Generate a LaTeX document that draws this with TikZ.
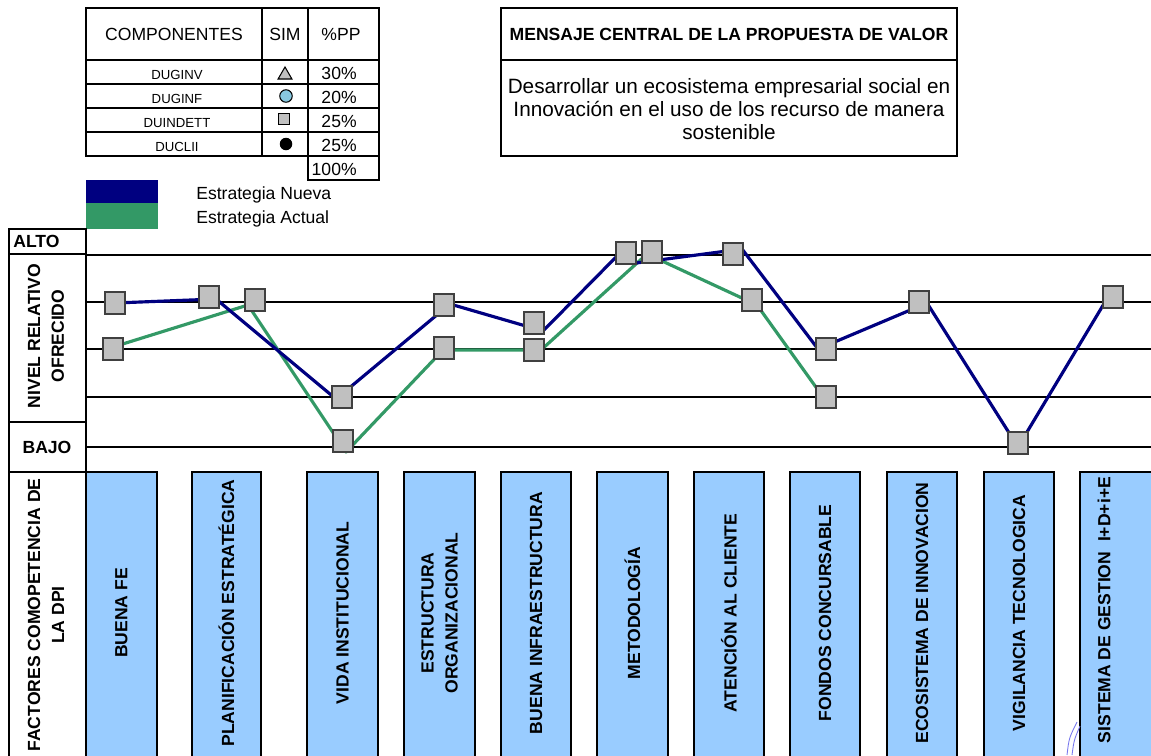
\documentclass[tikz,border=0pt]{standalone}
\usepackage{fontspec}
\setmainfont{Liberation Sans}
\usetikzlibrary{shapes.geometric,positioning}
\definecolor{nueva}{HTML}{000080}
\definecolor{actual}{HTML}{339966}
\definecolor{factor}{HTML}{99CCFF}
\definecolor{marca}{HTML}{C0C0C0}
\definecolor{simbolo}{HTML}{88C8E0}
\definecolor{arco}{HTML}{7777EE}

\begin{document}
\begin{tikzpicture}[x=0.02cm,y=-0.02cm,font=\fontsize{10}{12}\selectfont]
\tikzstyle{grueso}=[line width=1.6pt]
\tikzstyle{fino}=[line width=1pt]
\tikzstyle{rejilla}=[line width=1.1pt]
\tikzstyle{serie}=[line width=1.8pt,line join=round]
\tikzstyle{marcador}=[draw=black!75,fill=marca,line width=0.7pt,minimum width=0.4cm,minimum height=0.44cm,inner sep=0pt]
\tikzstyle{factorcol}=[draw,grueso,fill=factor]
\tikzstyle{vtexto}=[rotate=90,align=center,font=\fontsize{10}{13.6}\selectfont\bfseries]
\tikzstyle{celda}=[inner sep=0pt]
\useasboundingbox (0,0) rectangle (1151,755);

% tabla de componentes
\draw[fino] (86,8) rectangle (379,156) (308,156) rectangle (379,180)
  (262,8) -- (262,156) (308,8) -- (308,156);
\foreach \y in {60,84,108,132} \draw[fino] (86,\y) -- (379,\y);
\node[celda] (comp) at (174,34) {COMPONENTES};
\node[celda] (sim) at (285,34) {SIM};
\node[celda] (pp) at (341,34) {\%PP};
\foreach \n/\p [count=\i] in {DUGINV/30,DUGINF/20,DUINDETT/25,DUCLII/25}{
  \node[celda,anchor=base,font=\fontsize{7.5}{9}\selectfont] (c\i) at (177,{55+24*\i}) {\n};
  \node[celda,anchor=base east] (p\i) at (357,{55+24*\i}) {\p\%};
}
\node[celda,anchor=base east] (total) at (357,175) {100\%};
\node[regular polygon,regular polygon sides=3,draw,fill=marca,inner sep=0pt,minimum size=0.32cm,line width=0.6pt] (s1) at (285,75) {};
\node[circle,draw,fill=simbolo,inner sep=0pt,minimum size=0.25cm,line width=0.6pt] (s2) at (286,96) {};
\node[draw,fill=marca,inner sep=0pt,minimum size=0.23cm,line width=0.6pt] (s3) at (284,119) {};
\node[circle,fill=black,inner sep=0pt,minimum size=0.25cm] (s4) at (286,144) {};

% mensaje central
\draw[grueso] (501,8) rectangle (957,156) (501,60) -- (957,60);
\node[celda,font=\fontsize{10}{12}\selectfont\bfseries] (titulo) at (729,34) {MENSAJE CENTRAL DE LA PROPUESTA DE VALOR};
\node[celda,align=center,font=\fontsize{11.8}{13.3}\selectfont] (mensaje) at (729,109) {Desarrollar un ecosistema empresarial social en\\Innovación en el uso de los recurso de manera\\sostenible};

% leyenda
\fill[nueva] (86,180) rectangle (158,203);
\fill[actual] (86,203) rectangle (158,229);
\node[celda,anchor=base west] (ley1) at (196,199) {Estrategia Nueva};
\node[celda,anchor=base west] (ley2) at (196,223) {Estrategia Actual};

% columna de rotulos
\draw[grueso] (9,760) -- (9,229) -- (86,229) -- (86,760);
\draw[grueso] (9,254) -- (86,254) (9,422) -- (86,422) (9,472) -- (86,472);
\node[celda,anchor=west,font=\fontsize{10}{12}\selectfont\bfseries] (alto) at (13,241) {ALTO};
\node[celda,font=\fontsize{10}{12}\selectfont\bfseries] (bajo) at (47,447) {BAJO};
\node[vtexto] (nivel) at (46,336) {NIVEL RELATIVO\\OFRECIDO};
\node[vtexto] (factores) at (46,615) {FACTORES COMOPETENCIA DE\\LA DPI};

\foreach \y in {255,302,349,397,447} \draw[rejilla] (86,\y) -- (1151,\y);

% series
\foreach \x/\y [count=\i] in {113/347,248/305,346/452,443/350,541/350,647/254,757/305,818/390}
  \coordinate (a\i) at (\x,\y);
\foreach \x/\y [count=\i] in {115/303,216/299,336/399,450/304,543/331,620/253,636/263,742/249,818/349,927/303,1018/447,1108/297}
  \coordinate (n\i) at (\x,\y);
\draw[serie,actual] (a1) -- (a2) -- (a3) -- (a4) -- (a5) -- (a6) -- (a7) -- (a8);
\draw[serie,nueva] (n1) -- (n2) -- (n3) -- (n4) -- (n5) -- (n6) -- (n7) -- (n8) -- (n9) -- (n10) -- (n11) -- (n12);
\foreach \x/\y [count=\i] in {113/349,255/300,343/441,444/348,534/350,652/252,752/300,826/397}
  \node[marcador] (ma\i) at (\x,\y) {};
\foreach \x/\y [count=\i] in {115/303,209/297,342/397,444/305,534/323,626/253,733/254,826/349,919/302,1018/443,1113/297}
  \node[marcador] (mn\i) at (\x,\y) {};

% factores
\foreach \a/\b/\t [count=\i] in {86/157/{BUENA FE},192/261/{PLANIFICACIÓN ESTRATÉGICA},307/378/{VIDA INSTITUCIONAL},404/475/{ESTRUCTURA\\ORGANIZACIONAL},501/571/{BUENA INFRAESTRUCTURA},597/668/{METODOLOGÍA},694/764/{ATENCIÓN AL CLIENTE},790/860/{FONDOS CONCURSABLE},887/957/{ECOSISTEMA DE INNOVACION},984/1054/{VIGILANCIA TECNOLOGICA}}{
  \filldraw[factorcol] (\a,760) -- (\a,472) -- (\b,472) -- (\b,760);
  \node[vtexto] (f\i) at ({(\a+\b)/2},613) {\t};
}
\filldraw[factorcol] (1080,760) -- (1080,472) -- (1160,472) -- (1160,760);
\node[vtexto] (f11) at (1104,610) {SISTEMA DE GESTION\ \ I+D+i+E};
\draw[line width=0.5pt,arco] (1067,755) .. controls (1069,738) .. (1077,722);
\draw[line width=0.5pt,arco] (1072,755) .. controls (1074,740) .. (1080,726);
\end{tikzpicture}
\end{document}
